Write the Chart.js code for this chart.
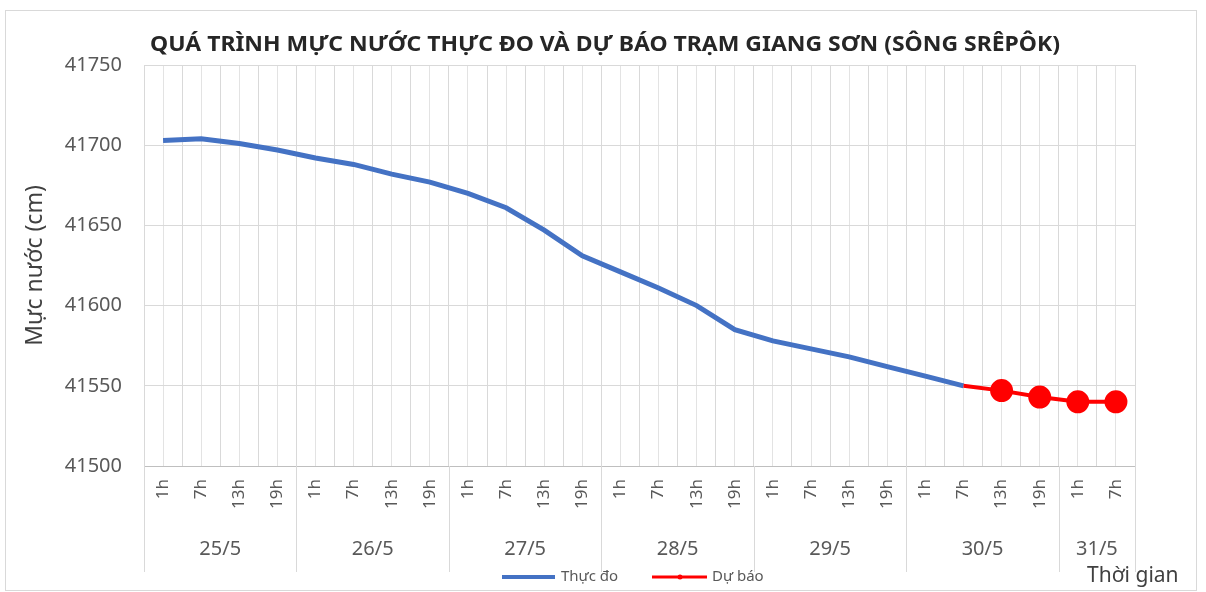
<!DOCTYPE html>
<html>
<head>
<meta charset="utf-8">
<script src="https://cdn.jsdelivr.net/npm/chart.js@4.4.1/dist/chart.umd.min.js"></script>
<style>
  html, body { margin: 0; padding: 0; background: #fff; }
</style>
</head>
<body>
<canvas id="myChart" width="1206" height="592"></canvas>
<script>
const title = 'QUÁ TRÌNH MỰC NƯỚC THỰC ĐO VÀ DỰ BÁO TRẠM GIANG SƠN (SÔNG SRÊPÔK)';
const days = ['25/5', '26/5', '27/5', '28/5', '29/5', '30/5', '31/5'];
const daySpans = [4, 4, 4, 4, 4, 4, 2];
const hourLabels = [
  '1h', '7h', '13h', '19h',
  '1h', '7h', '13h', '19h',
  '1h', '7h', '13h', '19h',
  '1h', '7h', '13h', '19h',
  '1h', '7h', '13h', '19h',
  '1h', '7h', '13h', '19h',
  '1h', '7h'
];
// thuc do: tu 1h 25/5 den 7h 30/5
const measured = [
  41703, 41704, 41701, 41697,
  41692, 41688, 41682, 41677,
  41670, 41661, 41647, 41631,
  41621, 41611, 41600, 41585,
  41578, 41573, 41568, 41562,
  41556, 41550
];
// du bao: tu 7h 30/5 den 7h 31/5
const forecast = [41550, 41547, 41543, 41540, 41540];
const yTicks = [41500, 41550, 41600, 41650, 41700, 41750];

const FONT = "'Noto Sans', 'DejaVu Sans', sans-serif";
Chart.defaults.font.family = FONT;

const measuredData = hourLabels.map((_, i) => i < measured.length ? measured[i] : null);
const forecastStart = measured.length - 1;
const forecastData = hourLabels.map((_, i) => {
  const k = i - forecastStart;
  return k >= 0 && k < forecast.length ? forecast[k] : null;
});

const extras = {
  id: 'extras',
  beforeDraw(chart) {
    const c = chart.ctx;
    c.save();
    c.fillStyle = '#fff';
    c.fillRect(0, 0, chart.width, chart.height);
    c.strokeStyle = '#d9d9d9';
    c.lineWidth = 1;
    c.strokeRect(5.5, 10.5, 1191, 580);
    c.restore();
  },
  afterDraw(chart) {
    const c = chart.ctx;
    const x = chart.scales.x;
    const area = chart.chartArea;
    const half = (x.getPixelForValue(1) - x.getPixelForValue(0)) / 2;
    c.save();

    // title, stretched to the width it has in the original
    c.fillStyle = '#262626';
    c.font = 'bold 21px ' + FONT;
    c.textAlign = 'left';
    c.textBaseline = 'middle';
    const tw = c.measureText(title).width;
    c.save();
    c.translate(150, 45);
    c.scale(910 / tw, 1);
    c.fillText(title, 0, 0);
    c.restore();
    c.textAlign = 'center';

    // day groups under the hour ticks
    c.strokeStyle = '#d9d9d9';
    c.lineWidth = 1;
    let start = 0;
    const bounds = [x.getPixelForValue(0) - half];
    daySpans.forEach(n => {
      start += n;
      bounds.push(x.getPixelForValue(start - 1) + half);
    });
    bounds.forEach(bx => {
      c.beginPath();
      c.moveTo(Math.round(bx) + 0.5, area.bottom);
      c.lineTo(Math.round(bx) + 0.5, 572);
      c.stroke();
    });
    c.fillStyle = '#595959';
    c.font = '20px ' + FONT;
    days.forEach((d, i) => {
      c.fillText(d, (bounds[i] + bounds[i + 1]) / 2, 549);
    });

    // legend
    c.lineCap = 'butt';
    c.lineWidth = 4;
    c.strokeStyle = '#4472c4';
    c.beginPath(); c.moveTo(502, 577); c.lineTo(555, 577); c.stroke();
    c.strokeStyle = '#ff0000';
    c.lineWidth = 3;
    c.beginPath(); c.moveTo(652, 577); c.lineTo(707, 577); c.stroke();
    c.fillStyle = '#ff0000';
    c.beginPath(); c.arc(680, 577, 2.5, 0, Math.PI * 2); c.fill();
    c.fillStyle = '#595959';
    c.font = '15px ' + FONT;
    c.textAlign = 'left';
    c.fillText('Thực đo', 561, 577);
    c.fillText('Dự báo', 712, 577);

    // x axis title
    c.fillStyle = '#404040';
    c.font = '21px ' + FONT;
    c.textBaseline = 'alphabetic';
    c.fillText('Thời gian', 1087, 582, 97);
    c.restore();
  }
};

new Chart(document.getElementById('myChart'), {
  type: 'line',
  data: {
    labels: hourLabels,
    datasets: [
      {
        label: 'Dự báo',
        data: forecastData,
        borderColor: '#ff0000',
        backgroundColor: '#ff0000',
        borderWidth: 4,
        pointRadius: ctx => ctx.dataIndex > forecastStart ? 9.5 : 0,
        pointBackgroundColor: '#ff0000',
        pointBorderColor: '#ff0000',
        tension: 0,
        spanGaps: false
      },
      {
        label: 'Thực đo',
        data: measuredData,
        borderColor: '#4472c4',
        backgroundColor: '#4472c4',
        borderWidth: 5,
        pointRadius: 0,
        tension: 0
      }
    ]
  },
  options: {
    responsive: false,
    animation: false,
    layout: { padding: { top: 65, right: 71, bottom: 0, left: 0 } },
    plugins: {
      legend: { display: false },
      title: { display: false },
      tooltip: { enabled: false }
    },
    scales: {
      x: {
        offset: true,
        grid: { offset: true, color: '#d9d9d9', drawTicks: false },
        border: { color: '#bfbfbf' },
        ticks: {
          autoSkip: false,
          maxRotation: 90,
          minRotation: 90,
          padding: 13,
          color: '#595959',
          font: { size: 17 }
        },
        afterFit(scale) { scale.height = 126; }
      },
      x2: {
        type: 'category',
        position: 'top',
        offset: true,
        grid: { offset: false, color: '#e3e3e3', drawTicks: false },
        border: { display: false },
        ticks: { display: false },
        afterFit(scale) { scale.height = 0; }
      },
      y: {
        min: yTicks[0],
        max: yTicks[yTicks.length - 1],
        afterBuildTicks(scale) { scale.ticks = yTicks.map(v => ({ value: v })); },
        grid: { color: '#d9d9d9', drawTicks: false },
        border: { display: false },
        ticks: {
          padding: 22,
          color: '#595959',
          font: { size: 20 },
          callback: v => String(v)
        },
        title: {
          display: true,
          text: 'Mực nước (cm)',
          color: '#404040',
          font: { size: 23 },
          padding: { top: 22, bottom: 0 }
        },
        afterFit(scale) { scale.width = 144; }
      }
    }
  },
  plugins: [extras]
});
</script>
</body>
</html>
